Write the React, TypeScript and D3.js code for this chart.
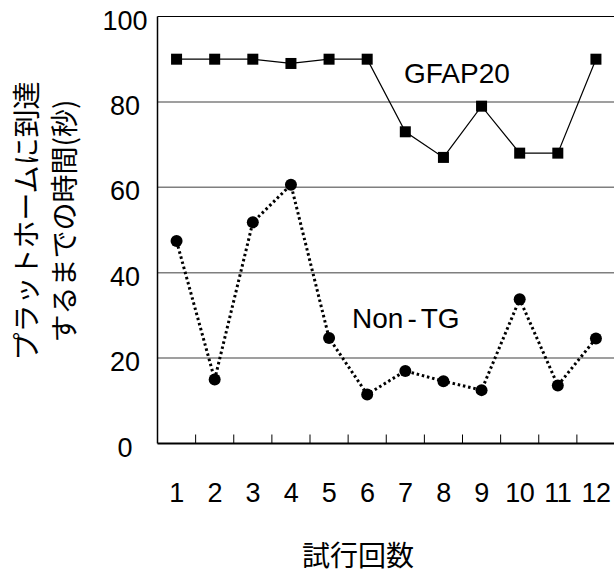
import * as d3 from "d3";

const trials = ["1", "2", "3", "4", "5", "6", "7", "8", "9", "10", "11", "12"];
const gfap20 = [90, 90, 90, 89, 90, 90, 73, 67, 79, 68, 68, 90];
const nonTG = [47.4, 15, 51.8, 60.6, 24.7, 11.5, 17, 14.6, 12.5, 33.8, 13.6, 24.6];
const yTicks = [0, 20, 40, 60, 80, 100];

const W = 614;
const H = 573;
const margin = { top: 16.5, right: -1, bottom: 129.5, left: 157.5 };
const latin = "'Liberation Sans', Arial, sans-serif";
const cjk = "'Noto Sans CJK JP', 'Noto Sans', sans-serif";

export default function App() {
  const x = d3
    .scaleBand<string>()
    .domain(trials)
    .range([margin.left, W - margin.right]);
  const y = d3
    .scaleLinear()
    .domain([0, 100])
    .range([H - margin.bottom, margin.top]);
  const cx = (i: number) => (x(trials[i]) as number) + x.bandwidth() / 2;

  const line = d3
    .line<number>()
    .x((_, i) => cx(i))
    .y((d) => y(d));

  const bottom = y(0);

  return (
    <svg
      width={W}
      height={H}
      style={{ position: "absolute", left: 0, top: 0, background: "#fff" }}
    >
      {/* grid */}
      {yTicks
        .filter((t) => t > 0 && t < 100)
        .map((t) => (
          <line
            key={t}
            x1={margin.left}
            x2={W}
            y1={y(t)}
            y2={y(t)}
            stroke="#7f7f7f"
            strokeWidth={1.5}
          />
        ))}
      <line x1={margin.left} x2={W} y1={y(100)} y2={y(100)} stroke="#000" strokeWidth={1.2} />
      {/* axes */}
      <line x1={margin.left} x2={margin.left} y1={y(100)} y2={bottom} stroke="#000" strokeWidth={1.5} />
      <line x1={margin.left} x2={W} y1={bottom} y2={bottom} stroke="#000" strokeWidth={2} />
      {trials.slice(1).map((t) => (
        <line
          key={t}
          x1={x(t)}
          x2={x(t)}
          y1={bottom}
          y2={bottom - 9}
          stroke="#000"
          strokeWidth={1}
        />
      ))}
      {yTicks.map((t) => (
        <text
          key={t}
          x={125}
          y={y(t) + 13}
          textAnchor="middle"
          fontFamily={latin}
          fontSize={27}
        >
          {t}
        </text>
      ))}
      {trials.map((t, i) => (
        <text
          key={t}
          x={cx(i)}
          y={502}
          textAnchor="middle"
          fontFamily={latin}
          fontSize={27}
          letterSpacing={-0.5}
        >
          {t}
        </text>
      ))}

      {/* GFAP20 series */}
      <path d={line(gfap20) || ""} fill="none" stroke="#000" strokeWidth={1.2} />
      {gfap20.map((v, i) => (
        <rect key={i} x={cx(i) - 5.5} y={y(v) - 5.5} width={11} height={11} fill="#000" />
      ))}

      {/* Non-TG series */}
      <path
        d={line(nonTG) || ""}
        fill="none"
        stroke="#000"
        strokeWidth={3}
        strokeDasharray="2.5,2.8"
      />
      {nonTG.map((v, i) => (
        <circle key={i} cx={cx(i)} cy={y(v)} r={6} fill="#000" />
      ))}

      <text x={404} y={83} fontFamily={latin} fontSize={28}>
        GFAP20
      </text>
      <text x={352} y={328} fontFamily={latin} fontSize={28}>
        Non<tspan dx={4}>-</tspan>
        <tspan dx={4}>TG</tspan>
      </text>

      {/* axis titles */}
      <text
        x={358}
        y={566}
        textAnchor="middle"
        fontFamily={cjk}
        fontSize={28}
      >
        試行回数
      </text>
      <g transform="translate(25,221) rotate(-90)">
        <text textAnchor="middle" dominantBaseline="central" fontFamily={cjk} fontSize={28}>
          プラットホームに到達
        </text>
        <text y={38} textAnchor="middle" dominantBaseline="central" fontFamily={cjk} fontSize={28}>
          するまでの時間(秒)
        </text>
      </g>
    </svg>
  );
}
